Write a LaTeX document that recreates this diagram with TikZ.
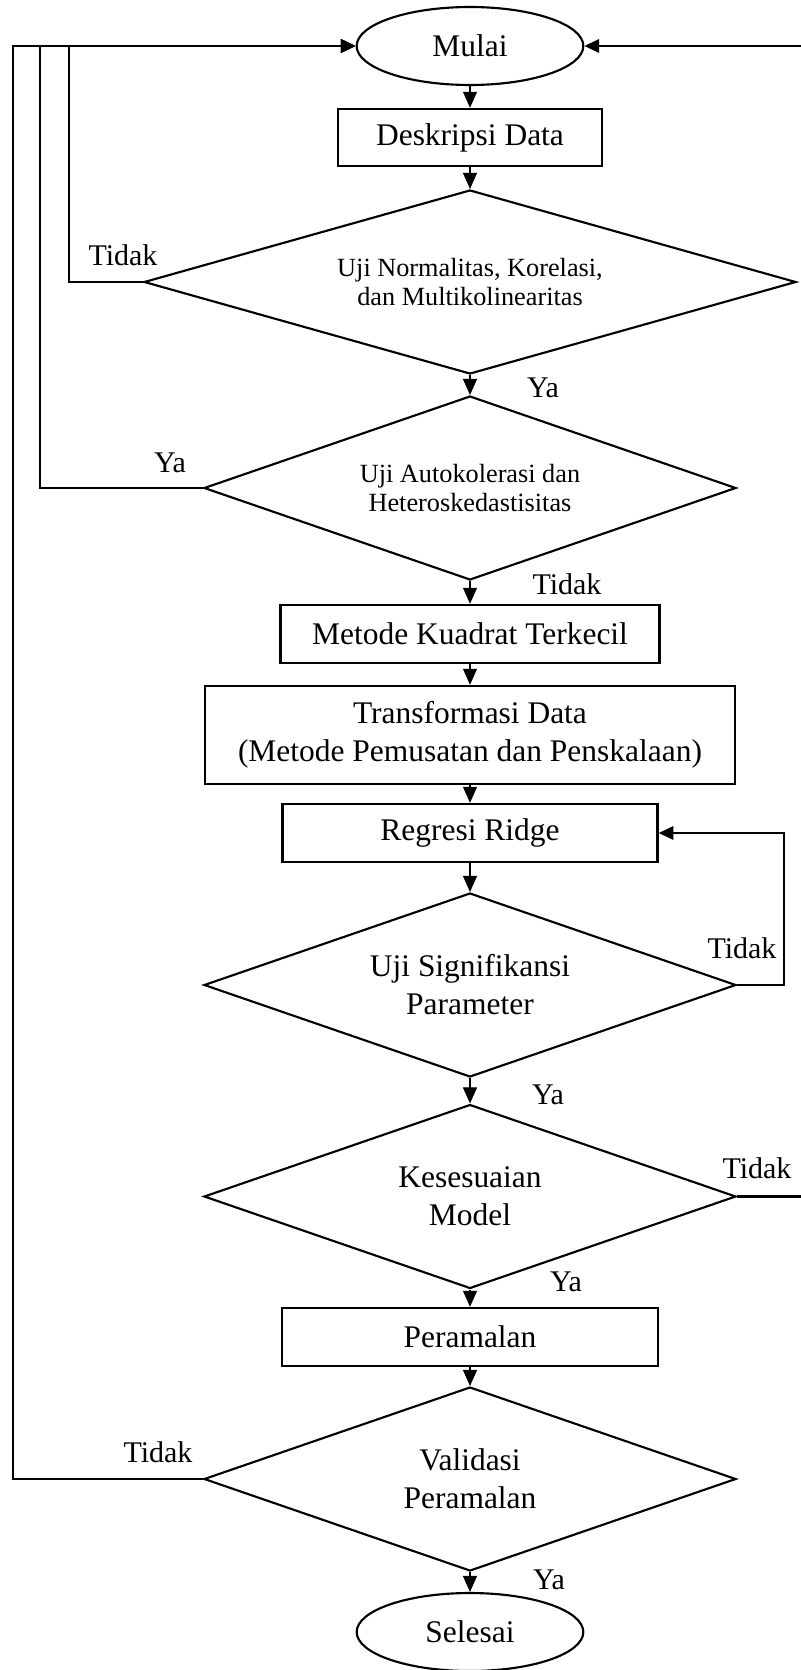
\documentclass[tikz,border=0pt]{standalone}
\usepackage{fontspec}
\setmainfont{Liberation Serif}
\usetikzlibrary{shapes.geometric,arrows.meta}
\begin{document}
\begin{tikzpicture}[x=0.75pt,y=-0.75pt,
  big/.style={font=\fontsize{23.6}{28.5}\selectfont},
  small/.style={font=\fontsize{19.7}{21.5}\selectfont},
  lbl/.style={font=\fontsize{22.5}{27}\selectfont, inner sep=0pt},
  term/.style={draw, line width=1.6pt, ellipse, minimum width=170pt, minimum height=58.5pt, inner sep=0pt, big},
  proc/.style={draw, line width=1.8pt, rectangle, inner sep=0pt, big, align=center},
  dec/.style={draw, line width=1.6pt, diamond, shape aspect=4, inner sep=0pt, align=center, minimum width=399pt, minimum height=138pt},
  flow/.style={line width=0.8pt, -{Triangle[length=12pt,width=10.5pt]}},
  loopline/.style={line width=1.6pt, -{Triangle[length=11pt,width=10pt]}},
]
\useasboundingbox (0,0) rectangle (800,1670);
\node[term] (start) at (470,46) {Mulai};
\node[proc, minimum width=198pt, minimum height=42.75pt] (desk) at (470,137.5) {Deskripsi Data};
\node[dec, small, minimum width=489pt] (d1) at (470,282) {Uji Normalitas, Korelasi,\\dan Multikolinearitas};
\node[dec, small] (d2) at (470,488) {Uji Autokolerasi dan\\Heteroskedastisitas};
\node[proc, minimum width=284.25pt, minimum height=43.5pt] (ols) at (470,634) {Metode Kuadrat Terkecil};
\node[proc, minimum width=397.5pt, minimum height=73.5pt] (trans) at (470,735) {Transformasi Data\\(Metode Pemusatan dan Penskalaan)};
\node[proc, minimum width=281.25pt, minimum height=43.5pt] (ridge) at (470,833) {Regresi Ridge};
\node[dec, big] (d3) at (470,985) {Uji Signifikansi\\Parameter};
\node[dec, big] (d4) at (470,1196.5) {Kesesuaian\\Model};
\node[proc, minimum width=282pt, minimum height=43.5pt] (fc) at (470,1337) {Peramalan};
\node[dec, big] (d5) at (470,1479) {Validasi\\Peramalan};
\node[term] (end) at (470,1632) {Selesai};

\draw[flow] (start) -- (desk);
\draw[flow] (desk) -- (d1);
\draw[flow] (d1) -- (d2);
\draw[flow] (d2) -- (ols);
\draw[flow] (ols) -- (trans);
\draw[flow] (trans) -- (ridge);
\draw[flow] (ridge) -- (d3);
\draw[flow] (d3) -- (d4);
\draw[flow] (d4) -- (fc);
\draw[flow] (fc) -- (d5);
\draw[flow] (d5) -- (end);

\coordinate (k1) at (69,46);
\coordinate (k2) at (40,46);
\coordinate (k3) at (13,46);
\coordinate (k4) at (804,46);
\coordinate (k5) at (784,833);
\draw[loopline] (d1.west) -| (k1) -- (start.west);
\draw[loopline] (d2.west) -| (k2) -- (start.west);
\draw[loopline] (d5.west) -| (k3) -- (start.west);
\draw[loopline] (d4.east) -| (k4) -- (start.east);
\draw[loopline] (d3.east) -| (k5) -- (ridge.east);

\node[lbl] (t1) at (123,255) {Tidak};
\node[lbl] (y1) at (543,388) {Ya};
\node[lbl] (y2) at (170,463) {Ya};
\node[lbl] (t2) at (567,584) {Tidak};
\node[lbl] (t3) at (742,948) {Tidak};
\node[lbl] (y3) at (548,1095) {Ya};
\node[lbl] (t4) at (757,1168) {Tidak};
\node[lbl] (y4) at (566,1282) {Ya};
\node[lbl] (t5) at (158,1452) {Tidak};
\node[lbl] (y5) at (549,1580) {Ya};
\end{tikzpicture}
\end{document}
